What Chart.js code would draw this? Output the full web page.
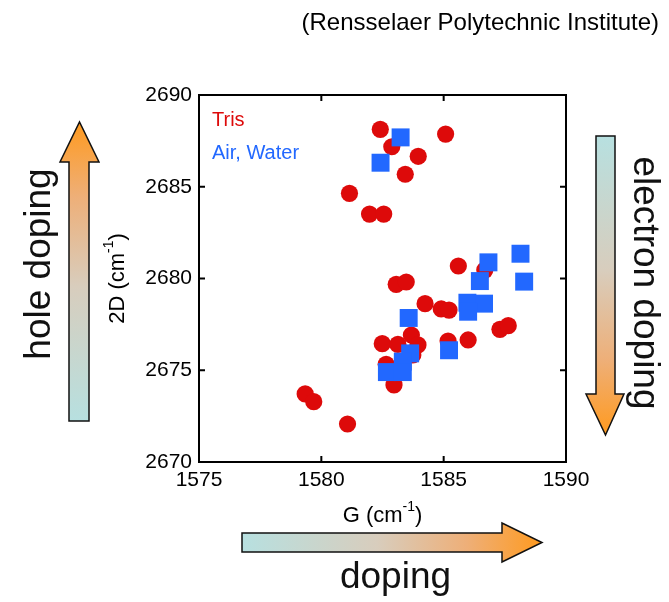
<!DOCTYPE html>
<html>
<head>
<meta charset="utf-8">
<script src="https://cdn.jsdelivr.net/npm/chart.js@4.4.0/dist/chart.umd.min.js"></script>
<style>
  body { margin: 0; background: #fff; }
  #wrap { width: 669px; height: 602px; }
</style>
</head>
<body>
<div id="wrap"><canvas id="ramanPlot" width="669" height="602"></canvas></div>
<script>
const xTicks = [1575, 1580, 1585, 1590];
const yTicks = [2670, 2675, 2680, 2685, 2690];

// Tris (red circles)
const trisG = [1582.41, 1582.88, 1585.08, 1583.96, 1583.43, 1581.15, 1581.97, 1582.55,
  1585.60, 1586.68, 1583.06, 1583.47, 1584.24, 1584.90, 1585.22, 1587.30, 1587.64,
  1582.49, 1583.13, 1583.68, 1583.95, 1585.18, 1586.00, 1582.65, 1583.74, 1582.97,
  1579.34, 1579.69, 1581.07];
const trisD = [2688.13, 2687.18, 2687.87, 2686.66, 2685.68, 2684.64, 2683.51, 2683.51,
  2680.68, 2680.46, 2679.68, 2679.81, 2678.63, 2678.34, 2678.28, 2677.23, 2677.43,
  2676.45, 2676.41, 2676.92, 2676.38, 2676.59, 2676.65, 2675.32, 2675.83, 2674.20,
  2673.71, 2673.29, 2672.07];

// Air, Water (blue squares)
const airG = [1583.24, 1582.42, 1588.14, 1586.83, 1586.48, 1588.29, 1585.97, 1586.65,
  1586.00, 1583.57, 1585.22, 1583.63, 1583.33, 1582.68, 1583.33];
const airD = [2687.69, 2686.31, 2681.35, 2680.88, 2679.86, 2679.83, 2678.68, 2678.63,
  2678.19, 2677.85, 2676.09, 2675.92, 2675.47, 2674.90, 2674.90];

const seriesNames = ["Tris", "Air, Water"];
const redColor = "#dd0a0a";
const blueColor = "#2268ff";
const FONT = "'Liberation Sans', Arial, sans-serif";

function toPoints(xs, ys) {
  return xs.map((x, i) => ({ x: x, y: ys[i] }));
}

// text with a small raised "-1"
function drawWithSup(ctx, base, sup, tail, size) {
  const supSize = Math.round(size * 0.62);
  ctx.font = size + "px " + FONT;
  const w1 = ctx.measureText(base).width;
  const w3 = ctx.measureText(tail).width;
  ctx.font = supSize + "px " + FONT;
  const w2 = ctx.measureText(sup).width;
  let x = -(w1 + w2 + w3) / 2;
  ctx.textAlign = "left";
  ctx.textBaseline = "middle";
  ctx.font = size + "px " + FONT;
  ctx.fillText(base, x, 0);
  x += w1;
  ctx.font = supSize + "px " + FONT;
  ctx.fillText(sup, x, -size * 0.38);
  x += w2;
  ctx.font = size + "px " + FONT;
  ctx.fillText(tail, x, 0);
}

function drawArrow(ctx, pts, grad) {
  ctx.beginPath();
  ctx.moveTo(pts[0][0], pts[0][1]);
  for (let i = 1; i < pts.length; i++) ctx.lineTo(pts[i][0], pts[i][1]);
  ctx.closePath();
  ctx.fillStyle = grad;
  ctx.fill();
  ctx.lineWidth = 1.5;
  ctx.strokeStyle = "#111";
  ctx.stroke();
}

function makeGrad(ctx, x0, y0, x1, y1) {
  // cyan end -> orange end
  const g = ctx.createLinearGradient(x0, y0, x1, y1);
  g.addColorStop(0, "#b7e0e0");
  g.addColorStop(0.45, "#d8cdbd");
  g.addColorStop(0.75, "#eeaf78");
  g.addColorStop(1, "#ff9a1f");
  return g;
}

const decorPlugin = {
  id: "decor",
  afterDatasetsDraw(chart) {
    const ctx = chart.ctx;
    const a = chart.chartArea;
    const xs = chart.scales.x;
    const ys = chart.scales.y;
    ctx.save();

    // frame with inward ticks on all sides
    ctx.strokeStyle = "#000";
    ctx.lineWidth = 2;
    ctx.strokeRect(a.left, a.top, a.right - a.left, a.bottom - a.top);
    ctx.beginPath();
    xTicks.forEach((v) => {
      const px = xs.getPixelForValue(v);
      ctx.moveTo(px, a.bottom); ctx.lineTo(px, a.bottom - 6);
      ctx.moveTo(px, a.top); ctx.lineTo(px, a.top + 6);
    });
    yTicks.forEach((v) => {
      const py = ys.getPixelForValue(v);
      ctx.moveTo(a.left, py); ctx.lineTo(a.left + 6, py);
      ctx.moveTo(a.right, py); ctx.lineTo(a.right - 6, py);
    });
    ctx.stroke();

    // legend text
    ctx.font = "20px " + FONT;
    ctx.textAlign = "left";
    ctx.textBaseline = "middle";
    ctx.fillStyle = redColor;
    ctx.fillText(seriesNames[0], a.left + 13, 120);
    ctx.fillStyle = blueColor;
    ctx.fillText(seriesNames[1], a.left + 13, 153);
    ctx.restore();
  },
  afterDraw(chart) {
    const ctx = chart.ctx;
    const a = chart.chartArea;
    ctx.save();
    ctx.fillStyle = "#000";

    // source label
    ctx.font = "24px " + FONT;
    ctx.textAlign = "right";
    ctx.textBaseline = "middle";
    ctx.fillText("(Rensselaer Polytechnic Institute)", 659, 23);

    // axis titles
    ctx.save();
    ctx.translate((a.left + a.right) / 2, 516);
    drawWithSup(ctx, "G (cm", "-1", ")", 22);
    ctx.restore();
    ctx.save();
    ctx.translate(118, (a.top + a.bottom) / 2);
    ctx.rotate(-Math.PI / 2);
    drawWithSup(ctx, "2D (cm", "-1", ")", 22);
    ctx.restore();

    // arrows
    drawArrow(ctx, [[69, 421], [89, 421], [89, 162], [99, 162], [79.5, 122], [60, 162], [69, 162]],
      makeGrad(ctx, 0, 421, 0, 122));
    drawArrow(ctx, [[596, 136], [615, 136], [615, 394], [624, 394], [605.5, 435], [586, 394], [596, 394]],
      makeGrad(ctx, 0, 136, 0, 435));
    drawArrow(ctx, [[242, 533], [502, 533], [502, 523], [542, 542.5], [502, 562], [502, 552], [242, 552]],
      makeGrad(ctx, 242, 0, 542, 0));

    // arrow labels
    ctx.fillStyle = "#111";
    ctx.font = "37px " + FONT;
    ctx.textAlign = "center";
    ctx.textBaseline = "alphabetic";
    ctx.save();
    ctx.translate(50, 264);
    ctx.rotate(-Math.PI / 2);
    ctx.fillText("hole doping", 0, 0);
    ctx.restore();
    ctx.save();
    ctx.translate(633.5, 283);
    ctx.rotate(Math.PI / 2);
    ctx.fillText("electron doping", 0, 0);
    ctx.restore();
    ctx.fillText("doping", 395.5, 588);
    ctx.restore();
  }
};

const ctx = document.getElementById("ramanPlot").getContext("2d");
const ramanChart = new Chart(ctx, {
  type: "scatter",
  data: {
    datasets: [
      {
        label: seriesNames[1],
        data: toPoints(airG, airD),
        pointStyle: "rect",
        pointRadius: 12.7,
        pointHoverRadius: 12.7,
        backgroundColor: blueColor,
        borderWidth: 0,
        order: 0,
      },
      {
        label: seriesNames[0],
        data: toPoints(trisG, trisD),
        pointStyle: "circle",
        pointRadius: 8.6,
        pointHoverRadius: 8.6,
        backgroundColor: redColor,
        borderWidth: 0,
        order: 1,
      },
    ],
  },
  options: {
    responsive: false,
    animation: false,
    layout: { padding: { left: 0, right: 103, top: 95, bottom: 0 } },
    plugins: {
      legend: { display: false },
      tooltip: { enabled: false },
    },
    scales: {
      x: {
        type: "linear",
        min: xTicks[0],
        max: xTicks[xTicks.length - 1],
        afterBuildTicks: (scale) => { scale.ticks = xTicks.map((v) => ({ value: v })); },
        afterFit: (scale) => { scale.height = 140; },
        grid: { display: false, drawTicks: false },
        border: { display: false },
        ticks: {
          color: "#000",
          padding: 6,
          font: { family: FONT, size: 21 },
          callback: (v) => String(v),
        },
      },
      y: {
        type: "linear",
        min: yTicks[0],
        max: yTicks[yTicks.length - 1],
        afterBuildTicks: (scale) => { scale.ticks = yTicks.map((v) => ({ value: v })); },
        afterFit: (scale) => { scale.width = 199; },
        grid: { display: false, drawTicks: false },
        border: { display: false },
        ticks: {
          color: "#000",
          padding: 7,
          font: { family: FONT, size: 21 },
          callback: (v) => String(v),
        },
      },
    },
  },
  plugins: [decorPlugin],
});
</script>
</body>
</html>
